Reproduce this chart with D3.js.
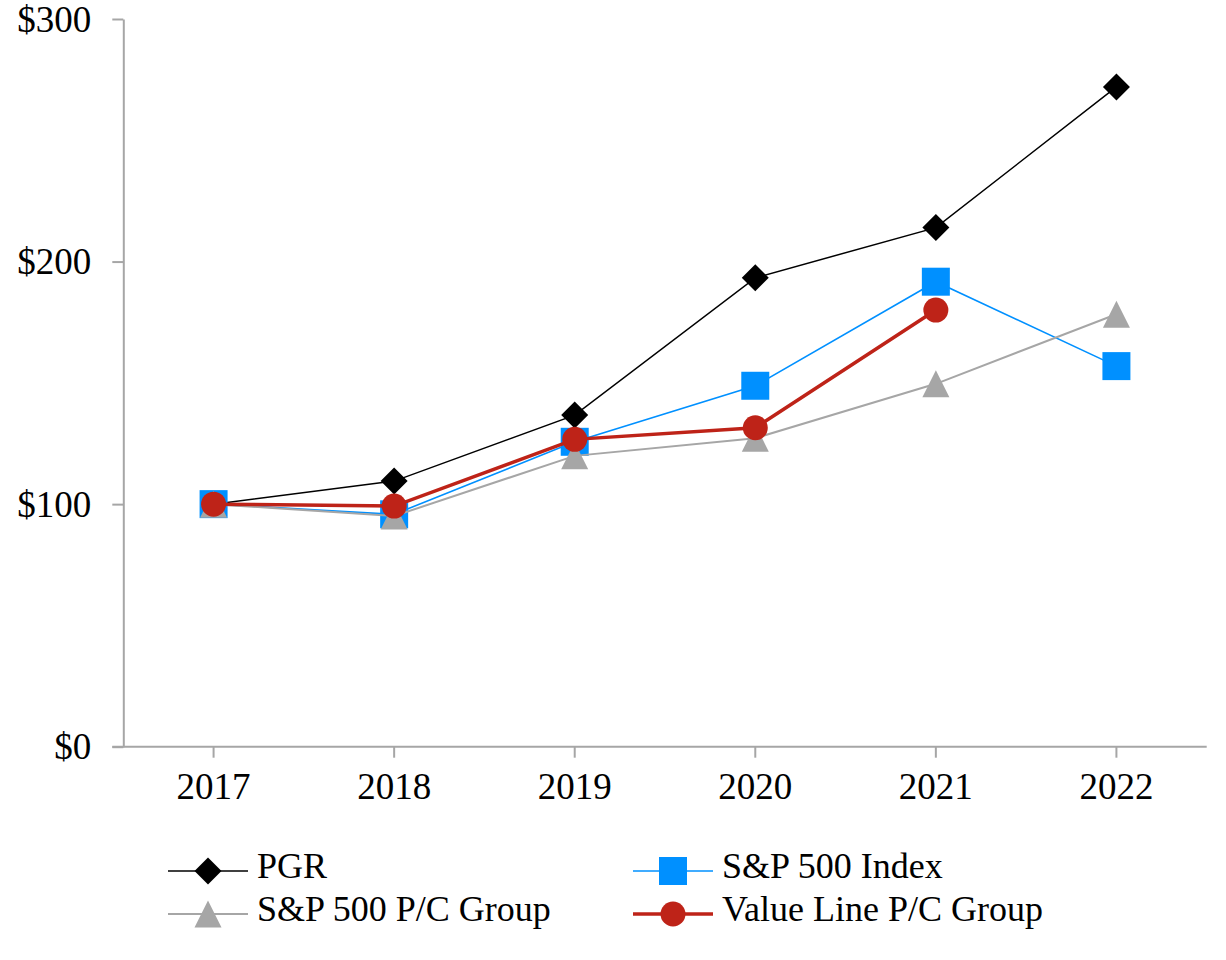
<!DOCTYPE html>
<html>
<head>
<meta charset="utf-8">
<script src="https://cdn.jsdelivr.net/npm/d3@7"></script>
<style>
	body { margin: 0; background: #fff; }
	svg { display: block; font-family: "Liberation Serif", "Times New Roman", serif; }
</style>
</head>
<body>
<svg id="chart" width="1226" height="960"></svg>
<script>
/*=================
=== Our data
=================*/
const years = ['2017', '2018', '2019', '2020', '2021', '2022'];
const pgr = [100, 109.5, 136.7, 193.3, 214.0, 272.0];
const spIndex = [100, 95.8, 125.7, 148.8, 191.7, 156.9];
const spPC = [100, 95.1, 119.9, 127.2, 149.6, 178.3];
const valueLinePC = [100, 99.2, 126.7, 131.5, 180.0, null];
const yTicks = [0, 100, 200, 300];

const seriesNames = ['PGR', 'S&P 500 Index', 'S&P 500 P/C Group', 'Value Line P/C Group'];

/*=================
=== Chart settings
=================*/
const margin = { top: 19, left: 123.3, right: 19.3, bottom: 213.3 };
const width = 1226;
const height = 960;

const svg = d3.select('#chart');

const xScale = d3.scaleBand()
	.domain(years)
	.range([margin.left, width - margin.right])
	.padding(0);

const yScale = d3.scaleLinear()
	.domain([0, 300])
	.range([height - margin.bottom, margin.top]);

const axisColor = '#a6a6a6';

// custom marker shapes (Excel style)
const diamond = {
	draw(ctx, size) {
		const r = Math.sqrt(size) / 2;
		ctx.moveTo(0, -r); ctx.lineTo(r, 0); ctx.lineTo(0, r); ctx.lineTo(-r, 0); ctx.closePath();
	}
};
const triangle = {
	draw(ctx, size) {
		const w = Math.sqrt(size) / 2;
		ctx.moveTo(0, -w); ctx.lineTo(w, w); ctx.lineTo(-w, w); ctx.closePath();
	}
};

const styles = [
	{ values: pgr, color: '#000000', lineWidth: 1.5, symbol: diamond, size: 27 * 27 },
	{ values: spIndex, color: '#0090ff', lineWidth: 1.6, symbol: d3.symbolSquare, size: 28 * 28 },
	{ values: spPC, color: '#a6a6a6', lineWidth: 2, symbol: triangle, size: 27 * 27 },
	{ values: valueLinePC, color: '#be2318', lineWidth: 3.5, symbol: d3.symbolCircle, size: Math.PI * 12.5 * 12.5 },
];

const cx = d => xScale(d) + xScale.bandwidth() / 2;

/*=================
=== Axes
=================*/
const yAxis = svg.append('g')
	.attr('transform', `translate(${margin.left},0)`)
	.call(d3.axisLeft(yScale)
		.tickValues(yTicks)
		.tickFormat(d => '$' + d)
		.tickSize(11)
		.tickSizeOuter(0)
		.tickPadding(21));
yAxis.select('.domain').attr('stroke', axisColor).attr('stroke-width', 2);
yAxis.selectAll('line').attr('stroke', axisColor).attr('stroke-width', 2);
yAxis.selectAll('text')
	.attr('fill', '#000')
	.attr('font-size', 37)
	.attr('font-family', '"Liberation Serif", serif')
	.attr('dy', '0.33em');

const xAxis = svg.append('g')
	.attr('transform', `translate(0,${yScale(0)})`)
	.call(d3.axisBottom(xScale)
		.tickSize(11)
		.tickSizeOuter(0)
		.tickPadding(12));
xAxis.select('.domain').remove();
xAxis.append('line')
	.attr('x1', margin.left - 11)
	.attr('x2', width - margin.right)
	.attr('stroke', axisColor)
	.attr('stroke-width', 2);
xAxis.selectAll('line').attr('stroke', axisColor).attr('stroke-width', 2);
xAxis.selectAll('text')
	.attr('fill', '#000')
	.attr('font-size', 37)
	.attr('font-family', '"Liberation Serif", serif')
	.attr('dy', '0.78em');

/*=================
=== Lines and markers
=================*/
const line = d3.line()
	.defined(d => d.v !== null)
	.x(d => cx(d.year))
	.y(d => yScale(d.v));

styles.forEach((s, i) => {
	const pts = years.map((y, j) => ({ year: y, v: s.values[j] }));
	const g = svg.append('g').attr('class', 'series');
	g.append('path')
		.datum(pts)
		.attr('d', line)
		.attr('fill', 'none')
		.attr('stroke', s.color)
		.attr('stroke-width', s.lineWidth);
	g.selectAll('.marker')
		.data(pts.filter(d => d.v !== null))
		.enter()
		.append('path')
		.attr('class', 'marker')
		.attr('transform', d => `translate(${cx(d.year)},${yScale(d.v)})`)
		.attr('d', d3.symbol().type(s.symbol).size(s.size))
		.attr('fill', s.color);
});

/*=================
=== Legend
=================*/
const legendPos = [
	{ x: 168, y: 871 },
	{ x: 633, y: 871 },
	{ x: 168, y: 914 },
	{ x: 633, y: 914 },
];

const legend = svg.append('g').attr('class', 'legend');
styles.forEach((s, i) => {
	const p = legendPos[i];
	const item = legend.append('g').attr('transform', `translate(${p.x},${p.y})`);
	item.append('line')
		.attr('x1', 0).attr('x2', 80)
		.attr('stroke', s.color)
		.attr('stroke-width', s.lineWidth);
	item.append('path')
		.attr('transform', 'translate(40,0)')
		.attr('d', d3.symbol().type(s.symbol).size(s.size))
		.attr('fill', s.color);
	item.append('text')
		.attr('x', 89)
		.attr('y', 7)
		.attr('font-size', 36)
		.attr('fill', '#000')
		.text(seriesNames[i]);
});
</script>
</body>
</html>
